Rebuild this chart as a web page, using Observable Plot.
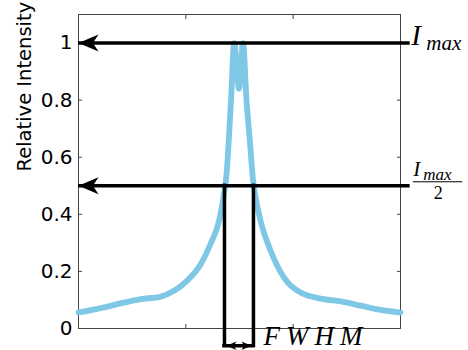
<!DOCTYPE html>
<html><head><meta charset="utf-8">
<script src="https://cdn.jsdelivr.net/npm/d3@7"></script>
<script src="https://cdn.jsdelivr.net/npm/@observablehq/plot@0.6"></script>
<style>body{margin:0;background:#fff;}</style>
</head><body><div id="chart"></div>
<script>
// Spectrum profile
const position  = [0, 0.24, 0.39, 0.58, 0.76, 0.89, 1.01, 1.14, 1.23, 1.31, 1.36, 1.374, 1.421, 1.45, 1.495, 1.533, 1.565, 1.596, 1.626, 1.66, 1.696, 1.789, 1.913, 2.068, 2.286, 2.441, 2.627, 2.814, 3.0];
const intensity = [0.056, 0.074, 0.088, 0.103, 0.111, 0.132, 0.167, 0.226, 0.296, 0.378, 0.483, 0.52, 0.80, 1.0, 0.84, 1.0, 0.80, 0.66, 0.52, 0.44, 0.378, 0.273, 0.179, 0.126, 0.103, 0.095, 0.08, 0.065, 0.056];
const yTicks = [0, 0.2, 0.4, 0.6, 0.8, 1];
const xTicks = [1, 2];
const levels = [1, 0.5];            // I_max and I_max / 2
const halfMaxX = [1.36, 1.63];      // half-maximum crossings (FWHM)
const yLabel = "Relative Intensity";

const xDomain = [0, 3], yDomain = [0, 1.1];
const lineEnd = 3.09;   // annotation lines run a bit past the frame
const yBase = -0.06;    // FWHM bracket below the axis
const labelX = 3.1;

const curve = position.map((x, i) => ({x, y: intensity[i]}));

// filled arrowhead pointing left, tip at origin
const arrowSym = {
  draw(ctx, size) {
    const r = Math.sqrt(size / Math.PI);
    const L = 2 * r, W = 1.7 * r;
    ctx.moveTo(0, 0);
    ctx.lineTo(L, -W / 2);
    ctx.lineTo(0.72 * L, 0);
    ctx.lineTo(L, W / 2);
    ctx.closePath();
  }
};

const serif = "Liberation Serif";
const chart = Plot.plot({
  width: 468, height: 350,
  marginLeft: 78, marginRight: 68, marginTop: 14, marginBottom: 22,
  x: {domain: xDomain},
  y: {domain: yDomain},
  style: {fontFamily: "DejaVu Sans", fontSize: "20px", color: "black", background: "white", overflow: "visible"},
  marks: [
    Plot.frame({stroke: "#444", strokeWidth: 1}),
    Plot.axisY(yTicks, {anchor: "left", tickSize: -4, tickPadding: 10, tickFormat: d => String(d), label: null, stroke: "#444", fontSize: 20, fill: "black"}),
    Plot.axisY(yTicks, {anchor: "right", tickSize: -4, tickFormat: () => "", label: null, stroke: "#444"}),
    Plot.axisX(xTicks, {anchor: "bottom", tickSize: -4, tickFormat: () => "", label: null, stroke: "#444"}),
    Plot.axisX(xTicks, {anchor: "top", tickSize: -4, tickFormat: () => "", label: null, stroke: "#444"}),
    Plot.text([yLabel], {frameAnchor: "left", text: d => d, rotate: -90, dx: -54, fontSize: 19.5, fill: "black"}),
    Plot.line(curve, {x: "x", y: "y", stroke: "#7ec8e6", strokeWidth: 5.8, curve: "monotone-x", strokeLinejoin: "round"}),
    Plot.ruleY(levels, {y: d => d, x1: xDomain[0], x2: lineEnd, stroke: "black", strokeWidth: 3.5}),
    Plot.ruleX(halfMaxX, {x: d => d, y1: levels[1], y2: yBase, stroke: "black", strokeWidth: 3.5, strokeLinecap: "square"}),
    Plot.ruleY([yBase], {y: d => d, x1: halfMaxX[0], x2: halfMaxX[1], stroke: "black", strokeWidth: 3.5, strokeLinecap: "square"}),
    Plot.dot(levels, {x: xDomain[0], y: d => d, symbol: arrowSym, r: 10, fill: "black"}),
    Plot.dot([halfMaxX[0]], {x: d => d, y: yBase, symbol: arrowSym, r: 5, fill: "black", dx: 2}),
    Plot.dot([halfMaxX[1]], {x: d => d, y: yBase, symbol: arrowSym, r: 5, rotate: 180, fill: "black", dx: -2}),
    // I_max label
    Plot.text([levels[0]], {x: labelX, y: d => d, text: () => "I", textAnchor: "start", fontFamily: serif, fontStyle: "italic", fontSize: 29, dy: -7, fill: "black"}),
    Plot.text([levels[0]], {x: labelX, y: d => d, text: () => "max", textAnchor: "start", fontFamily: serif, fontStyle: "italic", fontSize: 21, dx: 15, dy: 0, fill: "black"}),
    // I_max / 2 label
    Plot.text([levels[1]], {x: labelX, y: d => d, text: () => "I", textAnchor: "start", fontFamily: serif, fontStyle: "italic", fontSize: 21, dx: 2, dy: -17, fill: "black"}),
    Plot.text([levels[1]], {x: labelX, y: d => d, text: () => "max", textAnchor: "start", fontFamily: serif, fontStyle: "italic", fontSize: 17, dx: 12, dy: -11, fill: "black"}),
    Plot.ruleY([levels[1]], {y: d => d, x1: labelX + 0.02, x2: labelX + 0.48, stroke: "black", strokeWidth: 1, dy: -4}),
    Plot.text([levels[1]], {x: labelX, y: d => d, text: () => "2", textAnchor: "middle", fontFamily: serif, fontSize: 18, dx: 27, dy: 7, fill: "black"}),
    // FWHM label
    Plot.text([yBase], {x: halfMaxX[1], y: d => d, text: () => "FWHM", textAnchor: "start", fontFamily: serif, fontStyle: "italic", fontSize: 27, dx: 10, dy: -9, fill: "black"})
  ]
});
d3.select(chart).selectAll("text").filter(function() { return this.textContent === "FWHM"; }).attr("letter-spacing", 6);
document.getElementById("chart").append(chart);
</script>
</body></html>
